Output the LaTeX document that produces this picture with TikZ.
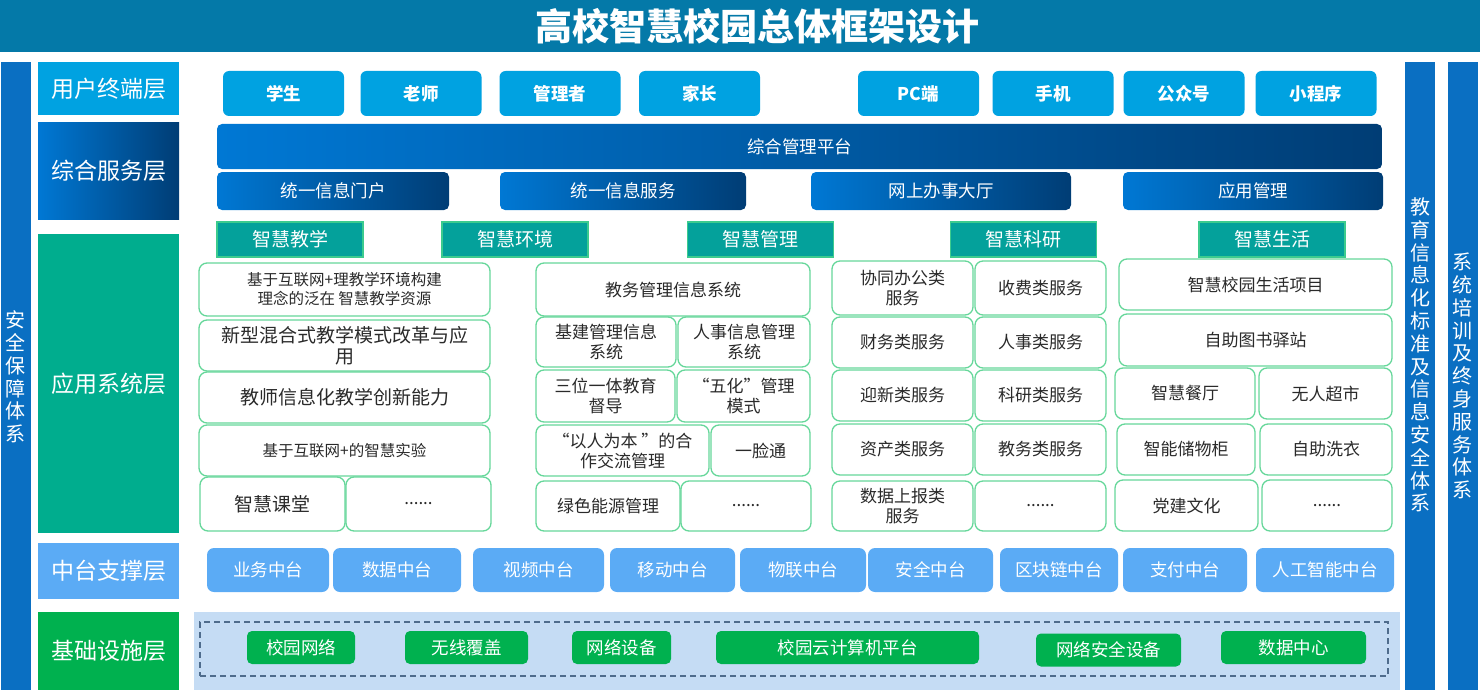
\documentclass[tikz,border=0pt]{standalone}
\usepackage{fontspec}
\setmainfont{Noto Sans CJK SC}
\definecolor{azulTitulo}{HTML}{0479A8}
\definecolor{azulBarra}{HTML}{0A6FC2}
\definecolor{azulTerm}{HTML}{00A2E1}
\definecolor{azulClaro}{HTML}{0078D4}
\definecolor{azulOscuro}{HTML}{003D75}
\definecolor{verdeApp}{HTML}{00AD8E}
\definecolor{verdeCab}{HTML}{04A19B}
\definecolor{lineaCab}{HTML}{3CCB8E}
\definecolor{lineaApp}{HTML}{66D79A}
\definecolor{grisTexto}{HTML}{2A2A2A}
\definecolor{azulMedio}{HTML}{5BABF5}
\definecolor{verdeInfra}{HTML}{00B14F}
\definecolor{fondoInfra}{HTML}{C5DCF4}
\definecolor{lineaInfra}{HTML}{4F6C8C}
\begin{document}
\begin{tikzpicture}[x=1pt, y=-1pt,
      every node/.style={inner sep=0pt, outer sep=0pt},
      capa/.style={text=white, minimum width=141pt, font=\fontsize{23}{26}\selectfont},
      barra/.style={fill=azulBarra, minimum width=30pt, minimum height=628pt},
      vertical/.style={text=white, align=center, font=\fontsize{20}{22.8}\selectfont},
      termBox/.style={fill=azulTerm, rounded corners=6pt, minimum width=121pt, minimum height=45pt, text=white, font=\fontsize{17.5}{20}\selectfont\bfseries},
      servBox/.style={left color=azulClaro, right color=azulOscuro, rounded corners=5pt, minimum height=38pt, text=white, font=\fontsize{17.5}{20}\selectfont},
      cabBox/.style={fill=verdeCab, draw=lineaCab, line width=1.2pt, minimum width=146pt, minimum height=35pt, text=white, font=\fontsize{19}{22}\selectfont},
      appBox/.style={fill=white, draw=lineaApp, line width=1.3pt, rounded corners=8pt, text=grisTexto, align=center, font=\fontsize{17}{20}\selectfont},
      appGrande/.style={appBox, font=\fontsize{19}{21}\selectfont},
      appChico/.style={appBox, font=\fontsize{15.5}{19}\selectfont},
      medioBox/.style={fill=azulMedio, rounded corners=7pt, minimum height=44pt, text=white, font=\fontsize{17.5}{20}\selectfont},
      infraBox/.style={fill=verdeInfra, rounded corners=5pt, minimum height=33pt, text=white, font=\fontsize{17.5}{20}\selectfont}
    ]
    \useasboundingbox (0,0) rectangle (1480,690);

    % --- titulo y barras laterales ---
    \node[fill=azulTitulo, minimum width=1480pt, minimum height=52pt, text=white, font=\fontsize{37}{40}\selectfont\bfseries] (titulo) at (740,26) {\hspace*{34pt}高校智慧校园总体框架设计};
    \node[barra] (seguridad) at (15.5,376) {};
    \node[vertical] at (15.5,377) {安\\全\\保\\障\\体\\系};
    \node[barra] (estandar) at (1420,376) {};
    \node[vertical] at (1420,355) {教\\育\\信\\息\\化\\标\\准\\及\\信\\息\\安\\全\\体\\系};
    \node[barra] (formacion) at (1462.5,376) {};
    \node[vertical] at (1462.5,376) {系\\统\\培\\训\\及\\终\\身\\服\\务\\体\\系};

    % --- capas ---
    \node[capa, fill=azulTerm, minimum height=53pt] (capaTerm) at (108.5,88.5) {用户终端层};
    \node[capa, left color=azulClaro, right color=azulOscuro, minimum height=96pt] (capaServ) at (108.5,171) {综合服务层};
    \node[capa, fill=verdeApp, minimum height=299pt] (capaApp) at (108.5,383.5) {应用系统层};
    \node[capa, fill=azulMedio, minimum height=56pt] (capaMedio) at (108.5,571) {中台支撑层};
    \node[capa, fill=verdeInfra, minimum height=78pt] (capaInfra) at (108.5,651) {基础设施层};

    % --- (a) 用户终端 ---
    \node[termBox] (estudiante) at (283.5,93.5) {学生};
    \node[termBox] (profesor) at (421,93.5) {老师};
    \node[termBox] (gestor) at (560,93.5) {管理者};
    \node[termBox] (padres) at (699.5,93.5) {家长};
    \node[termBox] (pc) at (918.5,93.5) {PC端};
    \node[termBox] (movil) at (1053,93.5) {手机};
    \node[termBox] (cuenta) at (1184,93.5) {公众号};
    \node[termBox] (miniApp) at (1316,93.5) {小程序};

    % --- (b) 综合服务 ---
    \node[servBox, minimum width=1165pt, minimum height=45pt] (plataforma) at (799.5,146.5) {综合管理平台};
    \node[servBox, minimum width=232pt] (portal) at (333,191) {统一信息门户};
    \node[servBox, minimum width=246pt] (servInfo) at (623,191) {统一信息服务};
    \node[servBox, minimum width=260pt] (tramites) at (941,191) {网上办事大厅};
    \node[servBox, minimum width=260pt] (gestApp) at (1253,191) {应用管理};

    % --- (c) 应用系统 ---
    \node[cabBox] (docencia) at (290,239.5) {智慧教学};
    \node[cabBox] (entorno) at (515,239.5) {智慧环境};
    \node[cabBox] (gestion) at (760.5,239.5) {智慧管理};
    \node[cabBox] (investigacion) at (1023.5,239.5) {智慧科研};
    \node[cabBox] (vida) at (1272,239.5) {智慧生活};

    % columna 1
    \node[appChico, minimum width=291pt, minimum height=53pt] (d1) at (344.5,289.5) {基于互联网+理教学环境构建\\理念的泛在 智慧教学资源};
    \node[appGrande, minimum width=291pt, minimum height=51pt] (d2) at (344.5,345.5) {新型混合式教学模式改革与应\\用};
    \node[appGrande, minimum width=291pt, minimum height=51pt] (d3) at (344.5,397.5) {教师信息化教学创新能力};
    \node[appChico, minimum width=291pt, minimum height=51pt] (d4) at (344.5,450.5) {基于互联网+的智慧实验};
    \node[appGrande, minimum width=145pt, minimum height=54pt] (d5) at (272.5,504) {智慧课堂};
    \node[appBox, minimum width=145pt, minimum height=54pt] (d6) at (418.5,504) {......};

    % columna 2
    \node[appBox, minimum width=274pt, minimum height=53pt] (g1) at (673,289.5) {教务管理信息系统};
    \node[appBox, minimum width=140pt, minimum height=50pt] (g2) at (606,342) {基建管理信息\\系统};
    \node[appBox, minimum width=132pt, minimum height=50pt] (g3) at (744,342) {人事信息管理\\系统};
    \node[appBox, minimum width=139pt, minimum height=52pt] (g4) at (605.5,396) {三位一体教育\\督导};
    \node[appBox, minimum width=133pt, minimum height=52pt] (g5) at (743.5,396) {“五化”管理\\模式};
    \node[appBox, minimum width=173pt, minimum height=51pt] (g6) at (622.5,450.5) {“以人为本 ”的合\\作交流管理};
    \node[appBox, minimum width=99pt, minimum height=51pt] (g7) at (760.5,450.5) {一脸通};
    \node[appBox, minimum width=144pt, minimum height=50pt] (g8) at (608,506) {绿色能源管理};
    \node[appBox, minimum width=130pt, minimum height=50pt] (g9) at (746,506) {......};

    % columna 3
    \node[appBox, minimum width=141pt, minimum height=54pt] (k1) at (902.5,288) {协同办公类\\服务};
    \node[appBox, minimum width=131pt, minimum height=54pt] (k2) at (1040.5,288) {收费类服务};
    \node[appBox, minimum width=141pt, minimum height=51pt] (k3) at (902.5,342.5) {财务类服务};
    \node[appBox, minimum width=131pt, minimum height=51pt] (k4) at (1040.5,342.5) {人事类服务};
    \node[appBox, minimum width=141pt, minimum height=51pt] (k5) at (902.5,395.5) {迎新类服务};
    \node[appBox, minimum width=131pt, minimum height=51pt] (k6) at (1040.5,395.5) {科研类服务};
    \node[appBox, minimum width=141pt, minimum height=51pt] (k7) at (902.5,449.5) {资产类服务};
    \node[appBox, minimum width=131pt, minimum height=51pt] (k8) at (1040.5,449.5) {教务类服务};
    \node[appBox, minimum width=141pt, minimum height=50pt] (k9) at (902.5,506) {数据上报类\\服务};
    \node[appBox, minimum width=131pt, minimum height=50pt] (k10) at (1040.5,506) {......};

    % columna 4
    \node[appBox, minimum width=273pt, minimum height=51pt] (v1) at (1255.5,284.5) {智慧校园生活项目};
    \node[appBox, minimum width=273pt, minimum height=52pt] (v2) at (1255.5,340) {自助图书驿站};
    \node[appBox, minimum width=140pt, minimum height=51pt] (v3) at (1185,393.5) {智慧餐厅};
    \node[appBox, minimum width=133pt, minimum height=51pt] (v4) at (1325.5,393.5) {无人超市};
    \node[appBox, minimum width=138pt, minimum height=51pt] (v5) at (1186,449.5) {智能储物柜};
    \node[appBox, minimum width=132pt, minimum height=51pt] (v6) at (1326,449.5) {自助洗衣};
    \node[appBox, minimum width=143pt, minimum height=51pt] (v7) at (1186.5,505.5) {党建文化};
    \node[appBox, minimum width=130pt, minimum height=51pt] (v8) at (1327,505.5) {......};

    % --- (d) 中台支撑 ---
    \node[medioBox, minimum width=122pt] (negocio) at (268,570) {业务中台};
    \node[medioBox, minimum width=128pt] (datos) at (397,570) {数据中台};
    \node[medioBox, minimum width=131pt] (video) at (538.5,570) {视频中台};
    \node[medioBox, minimum width=125pt] (movilMedio) at (672.5,570) {移动中台};
    \node[medioBox, minimum width=126pt] (iot) at (803,570) {物联中台};
    \node[medioBox, minimum width=125pt] (segMedio) at (930.5,570) {安全中台};
    \node[medioBox, minimum width=118pt] (bloques) at (1059,570) {区块链中台};
    \node[medioBox, minimum width=124pt] (pago) at (1185,570) {支付中台};
    \node[medioBox, minimum width=138pt] (ia) at (1325,570) {人工智能中台};

    % --- (e) 基础设施 ---
    \node[fill=fondoInfra, minimum width=1206pt, minimum height=78pt] (fondo) at (797,651) {};
    \node[draw=lineaInfra, dash pattern=on 6pt off 4pt, line width=1.4pt, minimum width=1188pt, minimum height=54pt] (marco) at (794,649) {};
    \node[infraBox, minimum width=108pt] (red) at (301,647.5) {校园网络};
    \node[infraBox, minimum width=123pt] (wifi) at (466.5,647.5) {无线覆盖};
    \node[infraBox, minimum width=99pt] (equipos) at (621.5,647.5) {网络设备};
    \node[infraBox, minimum width=263pt] (nube) at (847.5,647.5) {校园云计算机平台};
    \node[infraBox, minimum width=145pt] (segRed) at (1108.5,650) {网络安全设备};
    \node[infraBox, minimum width=145pt] (centro) at (1293.5,647.5) {数据中心};
  \end{tikzpicture}
\end{document}
